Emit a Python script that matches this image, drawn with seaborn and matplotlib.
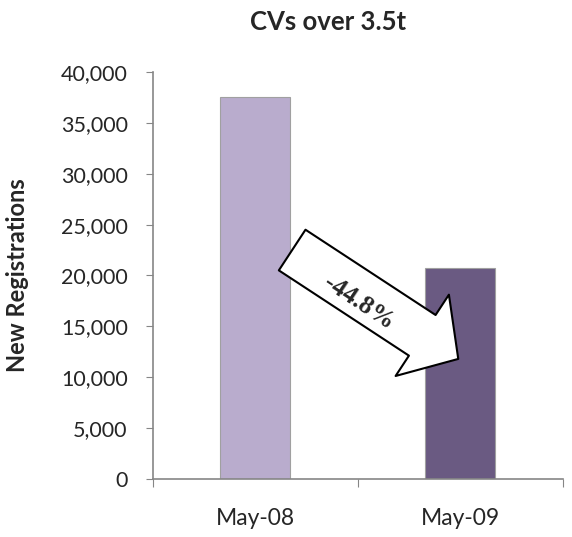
import pandas as pd
import numpy as np
from matplotlib import pyplot as plt
from matplotlib.ticker import FuncFormatter, FixedLocator
import seaborn as sns

months = ['May-08', 'May-09']
registrations = [37500, 20700]
bar_colors = ['#b8a6d3', '#695389']
change_label = '-44.8%'

data = pd.DataFrame({'month': months, 'registrations': registrations})

sns.set_style("white")
plt.rcParams['font.family'] = ['Lato', 'DejaVu Sans']

fig = plt.figure(figsize=(5.72, 5.37), dpi=100)
ax = fig.add_axes([0.267, 0.108, 0.717, 0.758])

sns.barplot(x='month', y='registrations', hue='month', data=data,
            palette=bar_colors, width=0.34, legend=False, ax=ax,
            edgecolor='#a0a0a0', linewidth=0.8)

ax.set_xlim(-0.5, 1.5)
ax.set_ylim(0, 40000)
ax.set_yticks(np.arange(0, 40001, 5000))
ax.yaxis.set_major_formatter(FuncFormatter(lambda v, p: f'{int(v):,}'))
ax.tick_params(axis='y', labelsize=15.5, length=5, color='#868686',
               direction='out', left=True, pad=13)

# category ticks between bars, labels centred under bars
ax.xaxis.set_major_locator(FixedLocator([-0.5, 0.5, 1.5]))
ax.xaxis.set_minor_locator(FixedLocator([0, 1]))
ax.set_xticklabels(['', '', ''])
ax.set_xticklabels(months, minor=True)
ax.tick_params(axis='x', which='major', length=6, color='#868686',
               direction='out', bottom=True)
ax.tick_params(axis='x', which='minor', length=0, labelsize=16.5, pad=21)

for side in ['top', 'right']:
    ax.spines[side].set_visible(False)
for side in ['left', 'bottom']:
    ax.spines[side].set_color('#868686')
    ax.spines[side].set_linewidth(1.2)

ax.set_xlabel('')
ax.set_ylabel('New Registrations', fontsize=17, fontweight='bold')
ax.yaxis.set_label_coords(-0.302, 0.5)
ax.set_title('CVs over 3.5t', fontsize=18.5, fontweight='bold', pad=30, x=0.427)

# block arrow showing the change
ax.annotate('', xy=(0.99, 11800), xytext=(0.18, 22500),
            arrowprops=dict(arrowstyle='simple,head_length=0.31,head_width=0.70,tail_width=0.35',
                            mutation_scale=100, fc='white', ec='black', lw=1.5,
                            shrinkA=0, shrinkB=0))
ax.text(0.505, 17300, change_label, rotation=-33.6, rotation_mode='anchor',
        ha='center', va='center', fontsize=18.5, fontweight='bold',
        fontfamily='Liberation Serif')

plt.savefig('out.png', dpi=100)
